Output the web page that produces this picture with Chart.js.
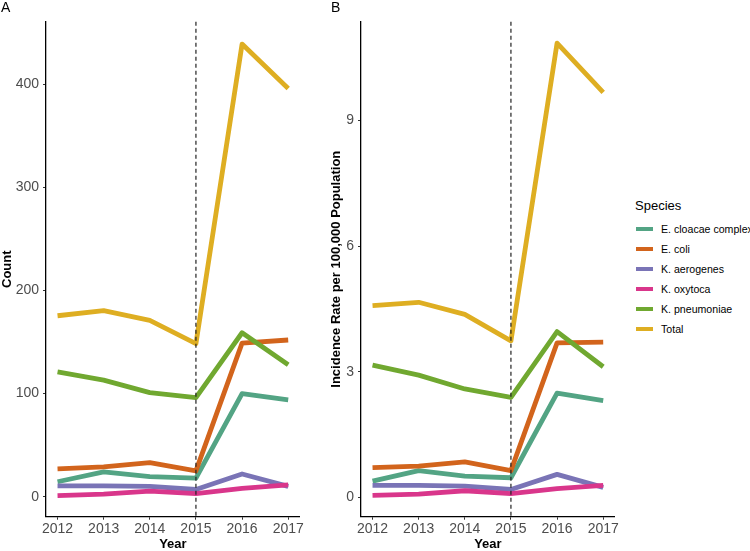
<!DOCTYPE html>
<html>
<head>
<meta charset="utf-8">
<script src="https://cdn.jsdelivr.net/npm/chart.js@4/dist/chart.umd.min.js"></script>
<style>
  body { margin: 0; background: #fff; font-family: "Liberation Sans", Arial, sans-serif; }
  #wrap { position: relative; width: 750px; height: 551px; overflow: hidden; }
  canvas { position: absolute; top: 0; }
  .panel-tag { position: absolute; font-size: 14px; color: #000; line-height: 14px; }
  #legend { position: absolute; left: 635px; top: 198px; }
  .leg-title { font-size: 13px; color: #000; height: 16px; line-height: 16px; margin-bottom: 5px; }
  .leg-row { position: relative; height: 20px; }
  .leg-key { position: absolute; left: 1px; top: 8px; width: 17px; height: 4px; }
  .leg-text { position: absolute; left: 26px; top: 3px; font-size: 10.6px; line-height: 14px; color: #000; white-space: nowrap; }
</style>
</head>
<body>
<div id="wrap">
  <canvas id="chart-a" style="left:0px" width="305" height="551"></canvas>
  <canvas id="chart-b" style="left:305px" width="315" height="551"></canvas>
  <div class="panel-tag" style="left:1px; top:0px;">A</div>
  <div class="panel-tag" style="left:331px; top:0px;">B</div>
  <div id="legend"></div>
</div>
<script>
const years = [2012, 2013, 2014, 2015, 2016, 2017];
const species = ["E. cloacae complex", "E. coli", "K. aerogenes", "K. oxytoca", "K. pneumoniae", "Total"];
const colors = ["#53a484", "#d2641c", "#7a74b6", "#d9368b", "#70a830", "#deae22"];

// panel A: counts
const countCloacae = [14.5, 24, 19.5, 18, 100, 94];
const countColi = [27, 29, 33, 25, 149, 152];
const countAerogenes = [10.5, 10.5, 10, 7, 22, 10];
const countOxytoca = [1, 2.5, 5.5, 3, 8, 11.5];
const countPneumoniae = [121, 113, 101, 96, 159, 128];
const countTotal = [175.5, 180.5, 171, 148.5, 439, 396];

// panel B: incidence per 100,000
const rateCloacae = [0.39, 0.64, 0.51, 0.47, 2.49, 2.31];
const rateColi = [0.71, 0.75, 0.85, 0.64, 3.69, 3.71];
const rateAerogenes = [0.29, 0.29, 0.27, 0.19, 0.55, 0.24];
const rateOxytoca = [0.05, 0.08, 0.16, 0.09, 0.21, 0.29];
const ratePneumoniae = [3.16, 2.92, 2.59, 2.39, 3.96, 3.12];
const rateTotal = [4.58, 4.66, 4.37, 3.74, 10.85, 9.67];

const countTicks = [0, 100, 200, 300, 400];
const rateTicks = [0, 3, 6, 9];
const breakYear = 2015;

const countSeries = [countCloacae, countColi, countAerogenes, countOxytoca, countPneumoniae, countTotal];
const rateSeries = [rateCloacae, rateColi, rateAerogenes, rateOxytoca, ratePneumoniae, rateTotal];

const breakLine = {
  id: "breakLine",
  afterDatasetsDraw(chart) {
    const { ctx, chartArea, scales } = chart;
    const x = scales.x.getPixelForValue(breakYear);
    ctx.save();
    ctx.strokeStyle = "#222";
    ctx.lineWidth = 1.2;
    ctx.setLineDash([4, 3]);
    ctx.beginPath();
    ctx.moveTo(x, chartArea.top);
    ctx.lineTo(x, chartArea.bottom);
    ctx.stroke();
    ctx.restore();
  },
};

function makeChart(id, series, yTicks, yMin, yMax, yTitle, yAxisWidth, titlePad) {
  return new Chart(document.getElementById(id), {
    type: "line",
    data: {
      datasets: series.map((vals, i) => ({
        label: species[i],
        data: vals.map((v, j) => ({ x: years[j], y: v })),
        borderColor: colors[i],
        borderWidth: 4.8,
        borderJoinStyle: "round",
        pointRadius: 0,
        tension: 0,
        order: species.length - i,
      })),
    },
    options: {
      responsive: false,
      animation: false,
      layout: { padding: { top: 21.7, right: 5, bottom: 0, left: 0 } },
      plugins: { legend: { display: false }, tooltip: { enabled: false } },
      scales: {
        x: {
          type: "linear",
          min: 2011.75,
          max: 2017.25,
          afterBuildTicks: (s) => { s.ticks = years.map((v) => ({ value: v })); },
          afterFit: (s) => { s.height = 34.3; },
          ticks: { color: "#4d4d4d", font: { size: 14 }, padding: 1, callback: (v) => String(v) },
          grid: { drawOnChartArea: false, drawTicks: true, tickLength: 3, color: "#333" },
          border: { display: true, color: "#000", width: 1.3 },
          title: { display: true, text: "Year", color: "#000", font: { size: 13, weight: "bold", lineHeight: 1 }, padding: 0 },
        },
        y: {
          type: "linear",
          min: yMin,
          max: yMax,
          afterBuildTicks: (s) => { s.ticks = yTicks.map((v) => ({ value: v })); },
          afterFit: (s) => { s.width = yAxisWidth; },
          ticks: { color: "#4d4d4d", font: { size: 14 }, padding: 4 },
          grid: { drawOnChartArea: false, drawTicks: true, tickLength: 3, color: "#333" },
          border: { display: true, color: "#000", width: 1.3 },
          title: { display: true, text: yTitle, color: "#000", font: { size: 13, weight: "bold" }, padding: { top: titlePad, bottom: 0 } },
        },
      },
    },
    plugins: [breakLine],
  });
}

makeChart("chart-a", countSeries, countTicks, -19.4, 460.7, "Count", 46, 0);
makeChart("chart-b", rateSeries, rateTicks, -0.46, 11.36, "Incidence Rate per 100,000 Population", 56, 24);

const legend = document.getElementById("legend");
legend.innerHTML = `<div class="leg-title">Species</div>` + species.map((name, i) => `
  <div class="leg-row">
    <div class="leg-key" style="background:${colors[i]}"></div>
    <div class="leg-text">${name}</div>
  </div>`).join("");
</script>
</body>
</html>
